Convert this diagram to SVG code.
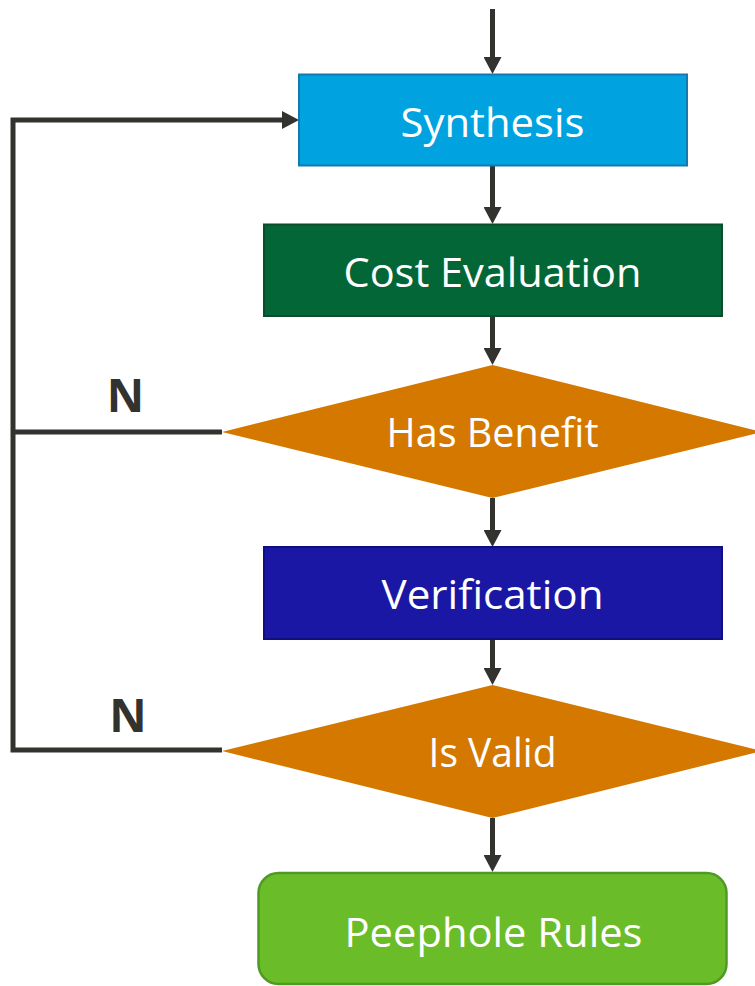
<svg xmlns="http://www.w3.org/2000/svg" width="755" height="986" viewBox="0 0 755 986">
  <defs>
    <marker id="ah" markerUnits="userSpaceOnUse" markerWidth="18" markerHeight="18" refX="0" refY="9" orient="auto" viewBox="0 0 18 18">
      <path d="M0,0 L17,9 L0,18 Z" fill="#32322E"/>
    </marker>
    <style>
      .conn { stroke: #32322E; stroke-width: 5; fill: none; }
      .lbl { font-family: "Open Sans", "Liberation Sans", sans-serif; font-size: 41px; fill: #FFFFFF; text-anchor: middle; }
      .n { font-family: "Open Sans", "Liberation Sans", sans-serif; font-size: 46px; font-weight: bold; fill: #32322E; text-anchor: middle; }
      .dia { fill: #D47800; }
    </style>
  </defs>
  <rect width="755" height="986" fill="#FFFFFF"/>

  <g id="connectors">
    <line class="conn" x1="492.5" y1="9" x2="492.5" y2="57" marker-end="url(#ah)"/>
    <line class="conn" x1="492.5" y1="166" x2="492.5" y2="207" marker-end="url(#ah)"/>
    <line class="conn" x1="492.5" y1="316" x2="492.5" y2="348" marker-end="url(#ah)"/>
    <line class="conn" x1="492.5" y1="498" x2="492.5" y2="530" marker-end="url(#ah)"/>
    <line class="conn" x1="492.5" y1="639" x2="492.5" y2="668" marker-end="url(#ah)"/>
    <line class="conn" x1="492.5" y1="818" x2="492.5" y2="855" marker-end="url(#ah)"/>
    <path class="conn" d="M222,432 H13"/>
    <path class="conn" d="M222,750 H13 V120 H282" marker-end="url(#ah)"/>
    <text class="n" x="125.5" y="412">N</text>
    <text class="n" x="128" y="732">N</text>
  </g>

  <g id="synthesis">
    <rect x="299" y="74.5" width="388" height="91" fill="#00A3E0" stroke="#1479B0" stroke-width="2"/>
    <text class="lbl" x="492.5" y="137" textLength="184" lengthAdjust="spacingAndGlyphs">Synthesis</text>
  </g>

  <g id="cost-evaluation">
    <rect x="264" y="224.5" width="458" height="91.5" fill="#036637" stroke="#0A4D2C" stroke-width="2"/>
    <text class="lbl" x="492.5" y="287" textLength="298" lengthAdjust="spacingAndGlyphs">Cost Evaluation</text>
  </g>

  <g id="has-benefit">
    <polygon class="dia" points="492.5,365 762,432 492.5,498 222,432"/>
    <text class="lbl" x="492.5" y="447" textLength="212" lengthAdjust="spacingAndGlyphs">Has Benefit</text>
  </g>

  <g id="verification">
    <rect x="264" y="547" width="458" height="92" fill="#1A17A5" stroke="#100E80" stroke-width="2"/>
    <text class="lbl" x="492.5" y="609" textLength="222" lengthAdjust="spacingAndGlyphs">Verification</text>
  </g>

  <g id="is-valid">
    <polygon class="dia" points="492.5,685 762,751 492.5,818 222,751"/>
    <text class="lbl" x="492.5" y="767" textLength="128" lengthAdjust="spacingAndGlyphs">Is Valid</text>
  </g>

  <g id="peephole-rules">
    <rect x="258.5" y="873" width="468" height="111" rx="20" ry="20" fill="#6ABD29" stroke="#4E9A22" stroke-width="2.5"/>
    <text class="lbl" x="493.5" y="947" textLength="298" lengthAdjust="spacingAndGlyphs">Peephole Rules</text>
  </g>
</svg>
